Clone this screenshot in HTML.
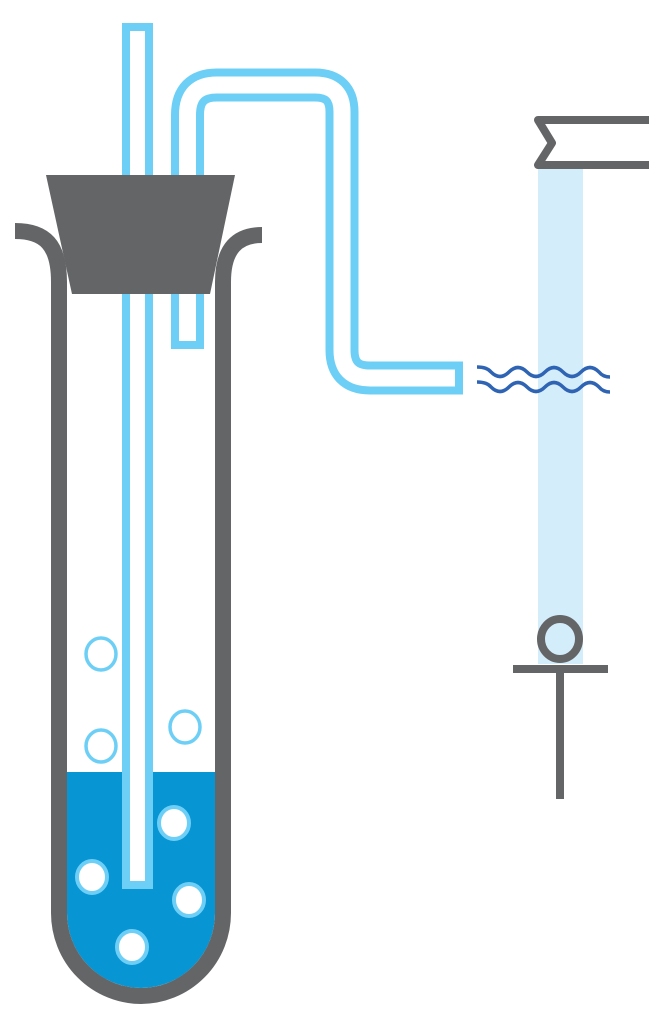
<!DOCTYPE html>
<html><head><meta charset="utf-8"><style>html,body{margin:0;padding:0;background:#fff}svg{display:block}</style></head>
<body>
<svg width="664" height="1024" viewBox="0 0 664 1024" xmlns="http://www.w3.org/2000/svg">
<!-- liquid -->
<path d="M67,772 L215,772 L215,913 A74 75 0 0 1 67,913 Z" fill="#0795d4"/>
<!-- test tube -->
<path d="M15,231 C45,231 59,245 59,282 L59,913 A82 83 0 0 0 223,913 L223,282 C223,248 238,235 262,235" fill="none" stroke="#646567" stroke-width="16"/>
<!-- straight tube -->
<rect x="126" y="27" width="23" height="858" fill="#fff" stroke="#6dcff6" stroke-width="8"/>
<!-- bent tube -->
<path d="M187.5,349 L187.5,115 Q187.5,85 217,85 L315,85 Q342,85 342,112 L342,350 Q342,378 370,378 L463,378" fill="none" stroke="#6dcff6" stroke-width="33"/>
<path d="M187.5,341 L187.5,115 Q187.5,85 217,85 L315,85 Q342,85 342,112 L342,350 Q342,378 370,378 L455,378" fill="none" stroke="#fff" stroke-width="17"/>
<!-- stopper -->
<polygon points="46,175 235,175 210,294 72,294" fill="#646567"/>
<!-- bubbles above -->
<g fill="none" stroke="#6dcff6" stroke-width="3.5">
<ellipse cx="101" cy="654" rx="15" ry="16"/>
<ellipse cx="101" cy="746" rx="15" ry="16"/>
<ellipse cx="185" cy="727" rx="15" ry="16"/>
</g>
<g fill="#fff" stroke="#6dcff6" stroke-width="4">
<ellipse cx="174" cy="823" rx="15" ry="16"/>
<ellipse cx="92" cy="877" rx="15" ry="16"/>
<ellipse cx="189" cy="900" rx="15" ry="16"/>
<ellipse cx="132" cy="947" rx="15" ry="16"/>
</g>
<!-- burette column -->
<rect x="538" y="168" width="45" height="496" fill="#d4edfb"/>
<path d="M649,120 L538,120 L552,143 L538,165 L649,165" fill="none" stroke="#646567" stroke-width="8" stroke-linejoin="round"/>
<!-- waves -->
<g fill="none" stroke="#2e64b3" stroke-width="3.5">
<path d="M477,367 q10,0 14,5 q9,9 18,0 q9,-9 18,0 q9,9 18,0 q9,-9 18,0 q9,9 18,0 q9,-9 18,0 q4,5 11,5"/>
<path d="M477,382 q10,0 14,5 q9,9 18,0 q9,-9 18,0 q9,9 18,0 q9,-9 18,0 q9,9 18,0 q9,-9 18,0 q4,5 11,5"/>
</g>
<!-- stopcock -->
<ellipse cx="560" cy="639" rx="19" ry="20" fill="#d4edfb" stroke="#646567" stroke-width="8"/>
<rect x="513" y="665" width="95" height="8" fill="#646567"/>
<rect x="556" y="673" width="8" height="126" fill="#646567"/>
</svg>
</body></html>
